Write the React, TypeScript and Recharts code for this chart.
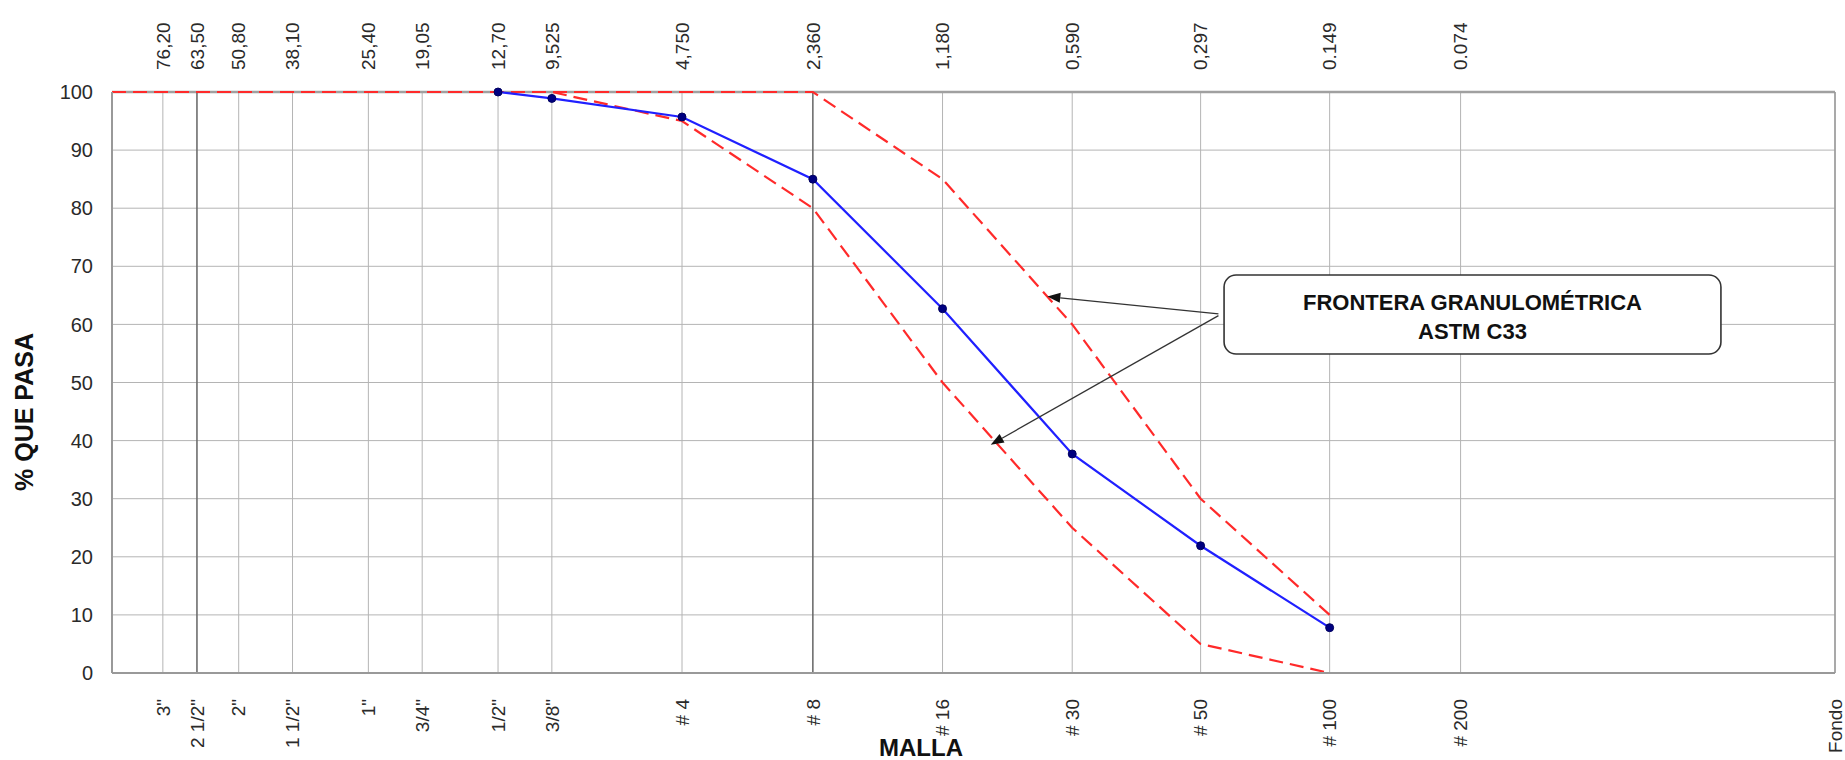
import React from 'react';
import {
  LineChart, Line, XAxis, YAxis, CartesianGrid, ReferenceLine, ReferenceArea,
} from 'recharts';

// aberturas de tamiz (mm)
const sizes = [76.2, 63.5, 50.8, 38.1, 25.4, 19.05, 12.7, 9.525, 4.75, 2.36, 1.18, 0.59, 0.297, 0.149, 0.074, 0.01];
const mallas = ['3"', '2 1/2"', '2"', '1 1/2"', '1"', '3/4"', '1/2"', '3/8"', '# 4', '# 8', '# 16', '# 30', '# 50', '# 100', '# 200', 'Fondo'];
const aberturas = ['76,20', '63,50', '50,80', '38,10', '25,40', '19,05', '12,70', '9,525', '4,750', '2,360', '1,180', '0,590', '0,297', '0.149', '0.074', ''];

// curva de la muestra
const muestraSizes = [12.7, 9.525, 4.75, 2.36, 1.18, 0.59, 0.297, 0.149];
const muestraPasa = [100, 98.9, 95.7, 85.0, 62.7, 37.7, 21.9, 7.8];

// limites ASTM C33
const limiteSizes = [100, 76.2, 63.5, 50.8, 38.1, 25.4, 19.05, 12.7, 9.525, 4.75, 2.36, 1.18, 0.59, 0.297, 0.149];
const limiteSuperior = [100, 100, 100, 100, 100, 100, 100, 100, 100, 100, 100, 85, 60, 30, 10];
const limiteInferior = [100, 100, 100, 100, 100, 100, 100, 100, 100, 95, 80, 50, 25, 5, 0];

const yTicks = [0, 10, 20, 30, 40, 50, 60, 70, 80, 90, 100];

const muestra = muestraSizes.map((s, i) => ({ size: s, pasa: muestraPasa[i] }));
const superior = limiteSizes.map((s, i) => ({ size: s, pasa: limiteSuperior[i] }));
const inferior = limiteSizes.map((s, i) => ({ size: s, pasa: limiteInferior[i] }));

const FONT = '"Liberation Sans", Arial, sans-serif';

const BottomTick = (props: any) => {
  const { x, y, payload } = props;
  const i = sizes.indexOf(payload.value);
  return (
    <text transform={`translate(${x},${y + 26}) rotate(-90)`} textAnchor="end" dy="0.35em"
      fontSize={19} fill="#2a2a2a" fontFamily={FONT}>
      {mallas[i]}
    </text>
  );
};

const TopTick = (props: any) => {
  const { x, y, payload } = props;
  const i = sizes.indexOf(payload.value);
  return (
    <text transform={`translate(${x},${y - 22}) rotate(-90)`} textAnchor="start" dy="0.35em"
      fontSize={19} fill="#2a2a2a" fontFamily={FONT}>
      {aberturas[i]}
    </text>
  );
};

const Arrow = (props: any) => {
  const { x1, y1, x2, y2 } = props;
  const a = Math.atan2(y2 - y1, x2 - x1);
  const L = 13, w = 5;
  const bx = x2 - L * Math.cos(a), by = y2 - L * Math.sin(a);
  const px = -Math.sin(a) * w, py = Math.cos(a) * w;
  return (
    <g>
      <line x1={x1} y1={y1} x2={bx} y2={by} stroke="#333" strokeWidth={1.3} />
      <polygon points={`${x2},${y2} ${bx + px},${by + py} ${bx - px},${by - py}`} fill="#111" />
    </g>
  );
};

const Caja = (props: any) => {
  const { x, y, width, height } = props;
  return (
    <g>
      <rect x={x} y={y} width={width} height={height} rx={12} ry={12} fill="#fff" stroke="#333" strokeWidth={1.6} />
      <text x={x + width / 2} y={y + 35} textAnchor="middle" fontSize={22} fontWeight="bold" fill="#111" fontFamily={FONT}>
        FRONTERA GRANULOMÉTRICA
      </text>
      <text x={x + width / 2} y={y + 64} textAnchor="middle" fontSize={22} fontWeight="bold" fill="#111" fontFamily={FONT}>
        ASTM C33
      </text>
    </g>
  );
};

const Dot = (props: any) => {
  const { cx, cy } = props;
  return <circle cx={cx} cy={cy} r={4} fill="#000080" stroke="#000060" strokeWidth={1} />;
};

export default function App() {
  return (
    <div style={{ position: 'absolute', left: 0, top: 0, width: 1845, height: 760, background: '#fff' }}>
      <LineChart width={1845} height={760} margin={{ top: 91, right: 9, bottom: 86, left: 111 }}>
        <CartesianGrid stroke="#b4b4b4" strokeWidth={1} />
        <XAxis xAxisId={0} dataKey="size" type="number" scale="log" domain={[0.01, 100]} reversed
          ticks={sizes} interval={0} height={1} tickSize={0} tickMargin={0} tickLine={false}
          axisLine={{ stroke: '#999', strokeWidth: 2 }} tick={<BottomTick />} />
        <XAxis xAxisId="top" orientation="top" dataKey="size" type="number" scale="log" domain={[0.01, 100]} reversed
          allowDataOverflow ticks={sizes} interval={0} height={1} tickSize={0} tickMargin={0} tickLine={false}
          axisLine={false} tick={<TopTick />} />
        <YAxis yAxisId={0} domain={[0, 100]} ticks={yTicks} interval={0} width={1} tickSize={0} tickMargin={19}
          tickLine={false} axisLine={{ stroke: '#999', strokeWidth: 2 }}
          tick={{ fontSize: 20, fill: '#2a2a2a', fontFamily: FONT }} />
        <YAxis yAxisId="right" orientation="right" domain={[0, 100]} width={1} tick={false} tickLine={false}
          axisLine={{ stroke: '#999', strokeWidth: 1.5 }} />
        <ReferenceLine y={100} stroke="#a0a0a0" strokeWidth={2.5} />
        <ReferenceLine x={63.5} stroke="#555" strokeWidth={1.2} />
        <ReferenceLine x={2.36} stroke="#555" strokeWidth={1.2} />
        <Line data={superior} dataKey="pasa" stroke="#ff2a2a" strokeWidth={2.2} strokeDasharray="14 7"
          dot={false} isAnimationActive={false} />
        <Line data={inferior} dataKey="pasa" stroke="#ff2a2a" strokeWidth={2.2} strokeDasharray="14 7"
          dot={false} isAnimationActive={false} />
        <Line data={muestra} dataKey="pasa" stroke="#2020ff" strokeWidth={2.2} dot={<Dot />}
          isAnimationActive={false} />
        <ReferenceLine segment={[{ x: 0.27, y: 61.8 }, { x: 0.674, y: 64.8 }]} ifOverflow="visible" shape={<Arrow />} />
        <ReferenceLine segment={[{ x: 0.27, y: 61.5 }, { x: 0.912, y: 39.3 }]} ifOverflow="visible" shape={<Arrow />} />
        <ReferenceArea x1={0.262} x2={0.0184} y1={54.9} y2={68.5} ifOverflow="visible" shape={<Caja />} />
        <text x={921} y={756} textAnchor="middle" fontSize={24} fontWeight="bold" fill="#111" fontFamily={FONT}>MALLA</text>
        <text transform="translate(24,412) rotate(-90)" textAnchor="middle" dy="0.35em" fontSize={25} fontWeight="bold"
          fill="#111" fontFamily={FONT}>% QUE PASA</text>
      </LineChart>
    </div>
  );
}
